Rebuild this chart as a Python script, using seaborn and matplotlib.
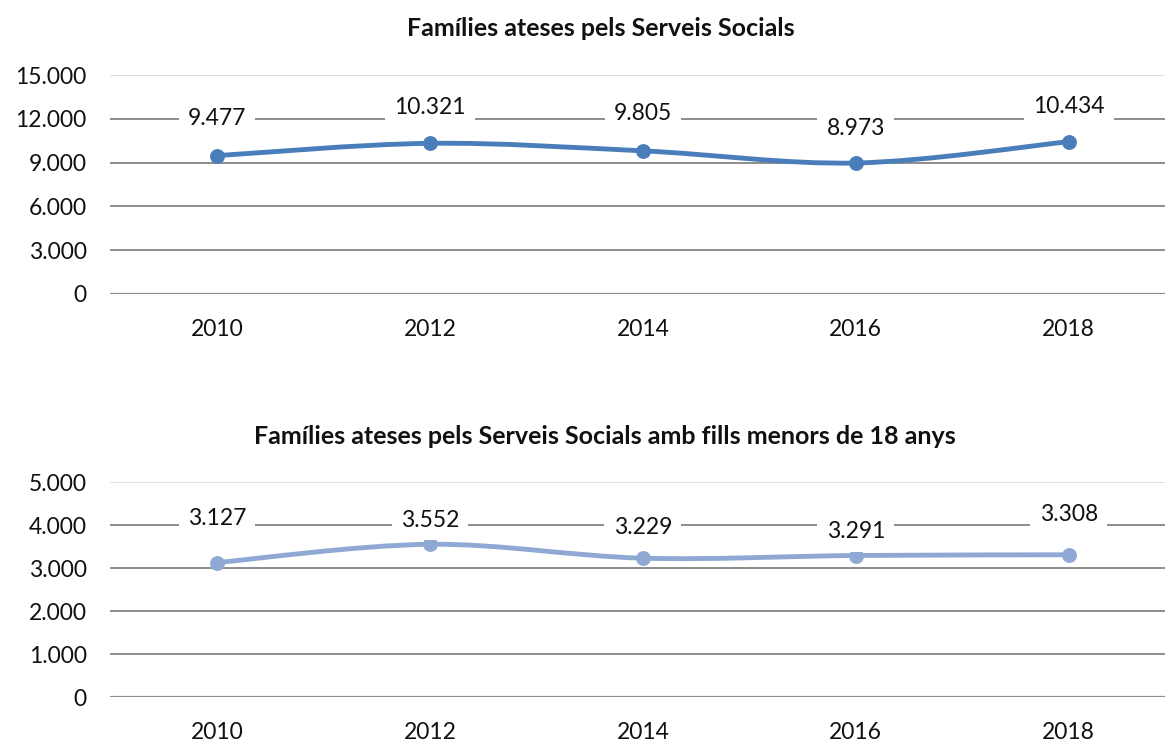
import numpy as np
import pandas as pd
import seaborn as sns
import matplotlib.pyplot as plt
from matplotlib.path import Path
from matplotlib.patches import PathPatch

sns.set_style('white')
plt.rcParams['font.family'] = ['Lato', 'DejaVu Sans']

# data
years = ['2010', '2012', '2014', '2016', '2018']
families = [9477, 10321, 9805, 8973, 10434]
families_kids = [3127, 3552, 3229, 3291, 3308]

top_ticks = [0, 3000, 6000, 9000, 12000, 15000]
bot_ticks = [0, 1000, 2000, 3000, 4000, 5000]

title_top = "Famílies ateses pels Serveis Socials"
title_bot = "Famílies ateses pels Serveis Socials amb fills menors de 18 anys"

# label offsets (points above marker)
dy_top = [27, 26, 27, 25, 25]
dy_bot = [32, 17, 22, 17, 29]


def fmt(v):
    return f"{v:,}".replace(',', '.')


def smooth_path(x, y):
    # Excel-like smoothed line (cubic bezier, catmull-rom control points)
    pts = np.column_stack([x, y]).astype(float)
    verts = [pts[0]]
    codes = [Path.MOVETO]
    n = len(pts)
    for i in range(n - 1):
        p0 = pts[max(i - 1, 0)]
        p1 = pts[i]
        p2 = pts[i + 1]
        p3 = pts[min(i + 2, n - 1)]
        c1 = p1 + (p2 - p0) / 6
        c2 = p2 - (p3 - p1) / 6
        verts += [c1, c2, p2]
        codes += [Path.CURVE4] * 3
    return Path(verts, codes)


def draw(ax, vals, ticks, color, dys):
    df = pd.DataFrame({'x': range(len(years)), 'y': vals})
    ax.add_patch(PathPatch(smooth_path(df['x'], df['y']), facecolor='none',
                           edgecolor=color, lw=3.5, capstyle='round', zorder=3))
    sns.scatterplot(data=df, x='x', y='y', color=color, s=115, edgecolor=color,
                    linewidth=0, ax=ax, zorder=4)
    for xi, yi, d in zip(df['x'], df['y'], dys):
        ax.annotate(fmt(yi), (xi, yi), xytext=(0, d), textcoords='offset points',
                    ha='center', va='center', fontsize=16.5, color='#111111',
                    bbox=dict(boxstyle='square,pad=0.4', fc='white', ec='none'),
                    zorder=5)
    ax.set_xlim(-0.5, 4.5)
    ax.set_ylim(0, ticks[-1])
    ax.set_yticks(ticks)
    ax.set_yticklabels([fmt(t) for t in ticks])
    ax.set_xticks(range(len(years)))
    ax.set_xticklabels(years)
    ax.tick_params(axis='both', length=0, labelsize=16.5, colors='#111111')
    ax.tick_params(axis='y', pad=17)
    ax.tick_params(axis='x', pad=18)
    for t in ticks[1:-1]:
        ax.axhline(t, color='#8c8c8c', lw=1.4, zorder=1)
    ax.axhline(ticks[-1], color='#d9d9d9', lw=1.2, zorder=1)
    ax.axhline(0, color='#8c8c8c', lw=1.6, zorder=2)
    for s in ax.spines.values():
        s.set_visible(False)
    ax.set_xlabel('')
    ax.set_ylabel('')


fig = plt.figure(figsize=(11.65, 7.42), dpi=100)
ax1 = fig.add_axes([0.0948, 0.6038, 0.914, 0.2951])
ax2 = fig.add_axes([0.0948, 0.0606, 0.914, 0.2898])

draw(ax1, families, top_ticks, '#4a7ebb', dy_top)
draw(ax2, families_kids, bot_ticks, '#8fa9d4', dy_bot)

fig.text(0.516, 1 - 28 / 742, title_top, ha='center', va='center',
         fontsize=18, fontweight='bold', color='#111111')
fig.text(0.519, 1 - 436 / 742, title_bot, ha='center', va='center',
         fontsize=18, fontweight='bold', color='#111111')

plt.savefig('out.png', dpi=100)
